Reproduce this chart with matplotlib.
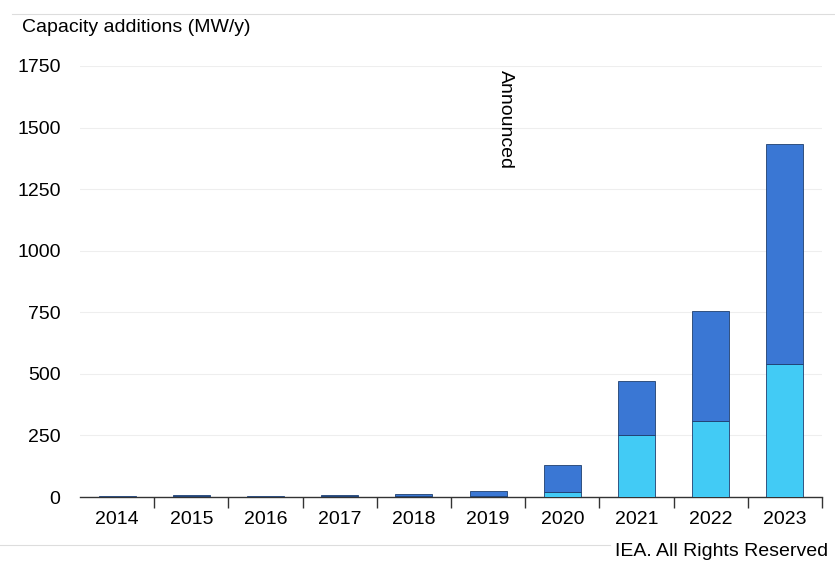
import matplotlib
matplotlib.use("Agg")
import matplotlib.pyplot as plt
import numpy as np

years = ["2014", "2015", "2016", "2017", "2018", "2019", "2020", "2021", "2022", "2023"]
operational = [1, 5, 2, 3, 4, 4, 20, 250, 310, 540]
announced = [4, 5, 4, 5, 9, 19, 108, 222, 445, 893]
yticks = [0, 250, 500, 750, 1000, 1250, 1500, 1750]

plt.rcParams['font.family'] = ['Liberation Sans', 'DejaVu Sans']
FS = 14

fig = plt.figure(figsize=(8.35, 5.61), dpi=100)
ax = fig.add_axes([80/835, 64/561, 742/835, 431/561])

x = np.arange(len(years))
light = "#42CBF5"
dark = "#3A77D4"
ax.bar(x, operational, width=0.5, color=light, edgecolor="#1f3f6f", linewidth=0.6, zorder=3)
ax.bar(x, announced, width=0.5, bottom=operational, color=dark, edgecolor="#1f3f6f", linewidth=0.6, zorder=3)

ax.set_xlim(-0.5, 9.5)
ax.set_ylim(0, 1750)
ax.set_yticks(yticks)
ax.set_yticklabels([str(v) for v in yticks], fontsize=FS)
ax.tick_params(axis='y', length=0, pad=14)
ax.set_xticks(x)
ax.set_xticklabels(years, fontsize=FS)
ax.tick_params(axis='x', length=0, pad=10)
ax.set_xticks(np.arange(0.5, 10, 1), minor=True)
ax.tick_params(axis='x', which='minor', length=8, width=1, direction='out', color='#333333')

for s in ['top', 'right', 'left']:
    ax.spines[s].set_visible(False)
ax.spines['bottom'].set_color('#333333')
ax.spines['bottom'].set_linewidth(1)
ax.grid(axis='y', color='#eeeeee', linewidth=0.8, zorder=0)
ax.set_axisbelow(True)

fig.text(22/835, 1 - 28/561, "Capacity additions (MW/y)", fontsize=FS, va='center', ha='left')
ax.text(5.23, 1735, "Announced", rotation=-90, fontsize=FS, ha='center', va='top')
fig.text(828/835, 1 - 551/561, "IEA. All Rights Reserved", fontsize=FS, ha='right', va='center')

# faint frame lines of the original image
fig.add_artist(plt.Line2D([12/835, 1], [1 - 14/561, 1 - 14/561], color='#dddddd', linewidth=0.8))
fig.add_artist(plt.Line2D([0, 610/835], [1 - 545/561, 1 - 545/561], color='#dddddd', linewidth=0.8))

fig.savefig("out.png", dpi=100, facecolor='white')
